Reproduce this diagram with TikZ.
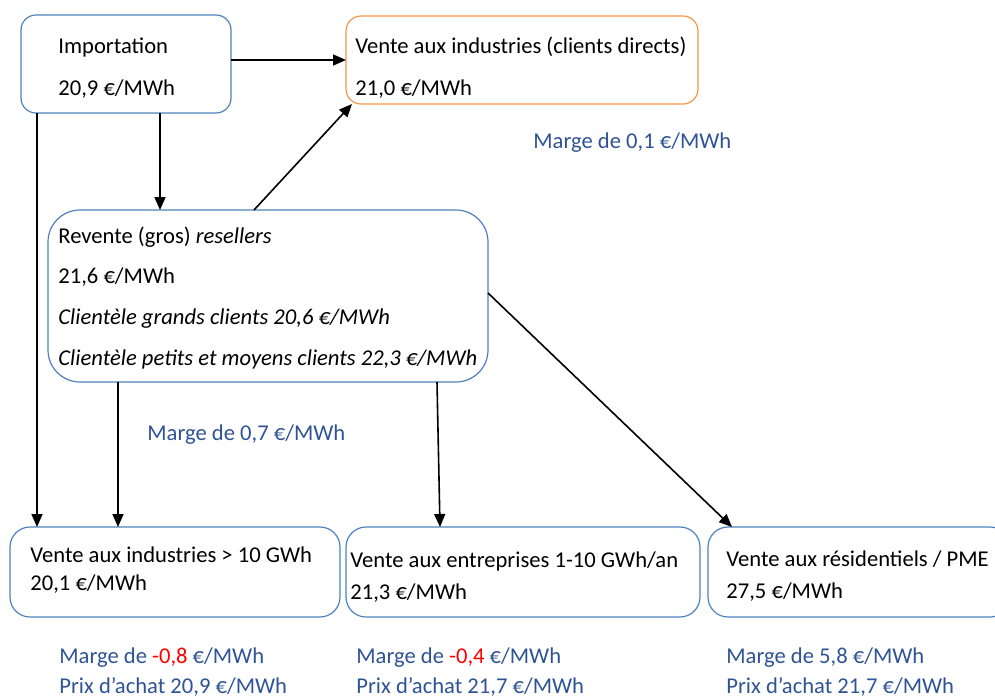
\documentclass[tikz,border=0pt]{standalone}
\usepackage{fontspec}
\setmainfont{Carlito}
\usetikzlibrary{arrows.meta}

\definecolor{boxblue}{RGB}{79,129,189}
\definecolor{boxorange}{RGB}{247,150,70}
\definecolor{margeblue}{RGB}{47,84,150}

\tikzset{
	box/.style={draw=boxblue, line width=0.6pt, rounded corners=7.5pt, inner sep=0pt, outer sep=0pt},
	txt/.style={anchor=base west, inner sep=0pt, align=left, font=\fontsize{11.3}{20.6}\selectfont},
	txtsmall/.style={txt, font=\fontsize{11.3}{15.5}\selectfont},
	marge/.style={txt, text=margeblue, font=\fontsize{11.3}{15}\selectfont},
	arr/.style={-{Triangle[length=6.5pt, width=5.5pt]}, line width=0.8pt}
}

\begin{document}
\begin{tikzpicture}[x=0.5pt, y=-0.5pt]
	
\useasboundingbox (0,0) rectangle (995,697);

% Boxes
\node[box, minimum width=105pt, minimum height=49pt] (imp) at (126,64) {};
\node[box, draw=boxorange, minimum width=176pt, minimum height=44pt] (direct) at (522,60) {};
\node[box, rounded corners=16pt, minimum width=220pt, minimum height=86pt] (resell) at (268,296) {};
\node[box, rounded corners=10pt, minimum width=165pt, minimum height=45pt] (ind) at (175,572) {};
\node[box, rounded corners=10pt, minimum width=177pt, minimum height=45pt] (ent) at (523,572) {};
\node[box, rounded corners=10pt, minimum width=151pt, minimum height=45pt] (res) at (859,572) {};

% Texts of the boxes (placed by the baseline of their last line)
\node[txt] (imptext) at (58,95) {Importation\\20,9 €/MWh};
\node[txt] (directtext) at (355,95) {Vente aux industries (clients directs)\\21,0 €/MWh};
\node[txt, font=\fontsize{11.3}{20.4}\selectfont] (reselltext) at (58,365.5) {Revente (gros) \textit{resellers}\\21,6 €/MWh\\\textit{Clientèle grands clients 20,6 €/MWh}\\\textit{Clientèle petits et moyens clients 22,3 €/MWh}};
\node[txt, font=\fontsize{11.3}{14}\selectfont] (indtext) at (30,590) {Vente aux industries > 10 GWh\\20,1 €/MWh};
\node[txtsmall, font=\fontsize{11.3}{16}\selectfont] (enttext) at (350,599) {Vente aux entreprises 1-10 GWh/an\\21,3 €/MWh};
\node[txtsmall, font=\fontsize{11.3}{16}\selectfont] (restext) at (726,598) {Vente aux résidentiels / PME\\27,5 €/MWh};

% Margins
\node[marge] (margedirect) at (533,148) {Marge de 0,1 €/MWh};
\node[marge] (margeresell) at (147,440) {Marge de 0,7 €/MWh};
\node[marge] (margeind) at (59,693) {Marge de \textcolor{red}{-0,8} €/MWh\\Prix d’achat 20,9 €/MWh};
\node[marge] (margeent) at (356,693) {Marge de \textcolor{red}{-0,4} €/MWh\\Prix d’achat 21,7 €/MWh};
\node[marge] (margeres) at (726,693) {Marge de 5,8 €/MWh\\Prix d’achat 21,7 €/MWh};

% Arrows from the importation
\draw[arr] (imp.east |- direct.west) -- (direct.west);
\draw[arr] ([xshift=17pt]imp.south) -- ([xshift=17pt]imp.south |- resell.north);
\draw[arr] ([xshift=-44.5pt]imp.south) -- ([xshift=-44.5pt]imp.south |- ind.north);

% Arrows from the resellers
\draw[arr] ([xshift=-7pt]resell.north) -- ([xshift=3pt]direct.south west);
\draw[arr] ([xshift=-75pt]resell.south) -- ([xshift=-75pt]resell.south |- ind.north);
\draw[arr] ([xshift=84.5pt]resell.south) -- ([xshift=-41.5pt]ent.north);
\draw[arr] ([yshift=1.5pt]resell.east) -- ([xshift=12pt]res.north west);

\end{tikzpicture}
\end{document}
